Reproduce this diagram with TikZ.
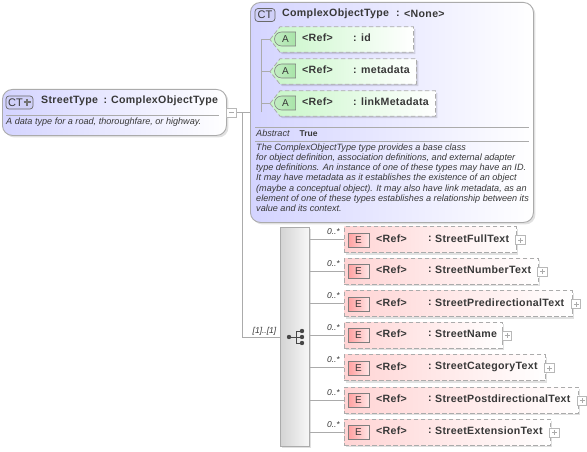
\documentclass[tikz,border=0pt]{standalone}
\usepackage{fontspec}
\setmainfont{Liberation Sans}
\usetikzlibrary{shapes.misc,shadows,calc}
\definecolor{edgegrey}{HTML}{ABABAB}
\definecolor{textdark}{HTML}{383838}
\definecolor{ctblue}{HTML}{D4D4FF}
\definecolor{ctbadge}{HTML}{D0D0F8}
\definecolor{attrgreen}{HTML}{C8F6C8}
\definecolor{attrbadge}{HTML}{A8E4A8}
\definecolor{elred}{HTML}{FFD4D4}
\definecolor{elbadge}{HTML}{FFA0A0}
\newfontfamily\titlefont[LetterSpace=3]{Liberation Sans}
\tikzset{
  softshadow/.style={general shadow={shadow xshift=2pt,shadow yshift=-2pt,fill=black,opacity=.12}},
  ctbox/.style={draw=edgegrey,line width=.9pt,rounded corners=10pt,left color=ctblue,right color=white,softshadow,minimum width=#1,anchor=north west,inner sep=0pt},
  attrslot/.style={rectangle,minimum height=25pt,minimum width=#1,anchor=west,inner sep=0pt},
  attrshape/.style={draw=edgegrey,dash pattern=on 4.5pt off 2.5pt,line width=.8pt,left color=attrgreen,right color=white,softshadow},
  elbox/.style={rectangle,draw=edgegrey,dash pattern=on 4.5pt off 2.5pt,line width=.8pt,left color=elred,right color=white,softshadow,minimum height=26pt,minimum width=#1,anchor=west,inner sep=0pt},
  badgect/.style={draw=textdark!75,line width=.7pt,rounded corners=3pt,fill=ctbadge,minimum width=#1,minimum height=13pt,inner sep=0pt,text=textdark},
  badgea/.style={rounded rectangle,rounded rectangle east arc=none,draw=textdark!65,line width=.6pt,left color=attrbadge!70!white,right color=attrbadge,minimum width=21pt,minimum height=14pt,inner sep=0pt,font=\fontsize{10}{10}\selectfont,text=textdark},
  badgee/.style={draw=textdark!65,line width=.6pt,left color=elbadge,right color=elred!60,minimum width=21pt,minimum height=14pt,inner sep=0pt,font=\fontsize{10}{10}\selectfont,text=textdark},
  title/.style={anchor=west,inner sep=0pt,text=textdark,font=\fontsize{10.6}{10.6}\titlefont\bfseries},
  desc/.style={anchor=north west,inner sep=0pt,text=textdark,align=left,font=\fontsize{9.1}{10.3}\selectfont\itshape},
  mult/.style={anchor=east,inner sep=0pt,text=textdark,font=\fontsize{8.5}{8.5}\selectfont\itshape},
  conn/.style={draw=edgegrey,line width=.8pt},
  rule/.style={draw=edgegrey,line width=.8pt},
  pm/.style={draw=edgegrey!85,fill=white,line width=.6pt,minimum width=9.5pt,minimum height=9pt,inner sep=0pt},
  dot/.style={circle,fill=black!72,minimum size=4.4pt,inner sep=0pt},
}
\newcommand{\elementrow}[5]{% id, y, width, name, plus x
  \node[elbox=#3] (el#1) at (344,#2) {};
  \node[badgee] (eb#1) at (358.5,#2+.5) {E};
  \node[title] at (376,#2-1) {<Ref>};
  \node[title] at (428,#2-1) {:};
  \node[title] at (435,#2-1) {#4};
  \node[pm] (ep#1) at (#5,#2+.5) {};
  \draw[edgegrey,line width=.6pt] (ep#1.center) +(-2.5,0) -- +(2.5,0) (ep#1.center) +(0,-2.5) -- +(0,2.5);
  \draw[conn] (seq.east |- el#1.west) -- (el#1.west);
  \node[mult] at (340,#2-7.5) {0..*};
}
\newcommand{\attrrow}[4]{% id, y, width, name
  \node[attrslot=#3] (attr#1) at (270,#2) {};
  \path[attrshape] (attr#1.west) -- ($(attr#1.north west)+(10,0)$) -- (attr#1.north east) -- (attr#1.south east) -- ($(attr#1.south west)+(10,0)$) -- cycle;
  \node[badgea] (ab#1) at (285.5,#2-.5) {A};
  \node[title] at (302,#2-1.5) {<Ref>};
  \node[title] at (353,#2-1.5) {: #4};
}
\begin{document}
\begin{tikzpicture}[x=1pt,y=-1pt]
\useasboundingbox (0,0) rectangle (587,452);
\fill[white] (0,0) rectangle (587,452);
% StreetType
\node[ctbox=224pt,minimum height=46pt] (street) at (2,89) {};
\node[badgect=27pt] (streetbadge) at (19.5,102.5) {};
\node[anchor=center,inner sep=0pt,text=textdark,font=\fontsize{11}{11}\selectfont] (streetct) at (15.5,102.5) {CT};
\draw[black!55,line width=2pt] (23.5,102.5) -- (30.5,102.5) (27,99) -- (27,106);
\node[title] (streettitle) at (41,100.5) {StreetType};
\node[title] (streetcolon) at (103.5,100.5) {:};
\node[title] (streetbase) at (111,100.5) {ComplexObjectType};
\draw[rule] (6,115) -- (219,115);
\node[desc] (streetdesc) at (6,118) {A data type for a road, thoroughfare, or highway.};
\node[pm] (collapse) at (231.5,112.5) {};
\draw[edgegrey,line width=.6pt] (collapse.center) +(-2.5,0) -- +(2.5,0);
% ComplexObjectType
\node[ctbox=283pt,minimum height=220pt] (cot) at (250,2) {};
\node[badgect=20pt,font=\fontsize{11}{11}\selectfont] (cotbadge) at (265,15) {CT};
\node[title] (cottitle) at (282,13.5) {ComplexObjectType};
\node[title] (cotcolon) at (396,13.5) {:};
\node[title] (cotbase) at (404,13.5) {<None>};
\attrrow{a}{39.5}{143pt}{id}
\attrrow{b}{71.5}{146pt}{metadata}
\attrrow{c}{103.5}{165pt}{linkMetadata}
\coordinate (trunk) at (261,112.5);
\draw[conn] (collapse.east) -- (cot.west |- collapse.east);
\draw[conn] (trunk) -- (trunk |- attra.west) -- (attra.west);
\draw[conn] (trunk |- attrb.west) -- (attrb.west);
\draw[conn] (trunk |- attrc.west) -- (attrc.west);
\draw[rule] (255,127) -- (529,127);
\draw[rule] (255,141) -- (529,141);
\node[desc] (abstractlabel) at (256,130) {Abstract};
\node[anchor=north west,inner sep=0pt,text=textdark,font=\fontsize{8.5}{8.5}\selectfont\bfseries] (abstractvalue) at (299.5,130.5) {True};
\node[desc] (cotdesc) at (256,143.3) {The ComplexObjectType type provides a base class\\for object definition, association definitions, and external adapter\\type definitions. An instance of one of these types may have an ID.\\It may have metadata as it establishes the existence of an object\\(maybe a conceptual object). It may also have link metadata, as an\\element of one of these types establishes a relationship between its\\value and its context.};
% Sequence
\node[rectangle,draw=edgegrey,line width=.8pt,left color=black!17,right color=black!3,softshadow,minimum width=29pt,minimum height=219pt,anchor=north west,inner sep=0pt] (seq) at (280,227) {};
\coordinate (bend) at (242,112.5);
\coordinate (seqin) at (242,337);
\draw[conn] (bend) -- (seqin) -- (seq.west |- seqin);
\node[mult] (seqmult) at (276.5,331) {[1]..[1]};
% Sequence icon
\node[dot] (d0) at (289,337) {};
\node[dot] (d1) at (302,331) {};
\node[dot] (d2) at (302,337) {};
\node[dot] (d3) at (302,343) {};
\draw[black!72,line width=.8pt] (d0) -- (d2) (d1) -- (296,331) -- (296,343) -- (d3);
% Elements
\elementrow{a}{239.5}{172pt}{StreetFullText}{520.5}
\elementrow{b}{271}{194pt}{StreetNumberText}{542.5}
\elementrow{c}{303.5}{228pt}{StreetPredirectionalText}{576}
\elementrow{d}{335}{158pt}{StreetName}{507}
\elementrow{e}{367.5}{201pt}{StreetCategoryText}{549.5}
\elementrow{f}{400}{234pt}{StreetPostdirectionalText}{582}
\elementrow{g}{432}{206pt}{StreetExtensionText}{554.5}
\end{tikzpicture}
\end{document}
